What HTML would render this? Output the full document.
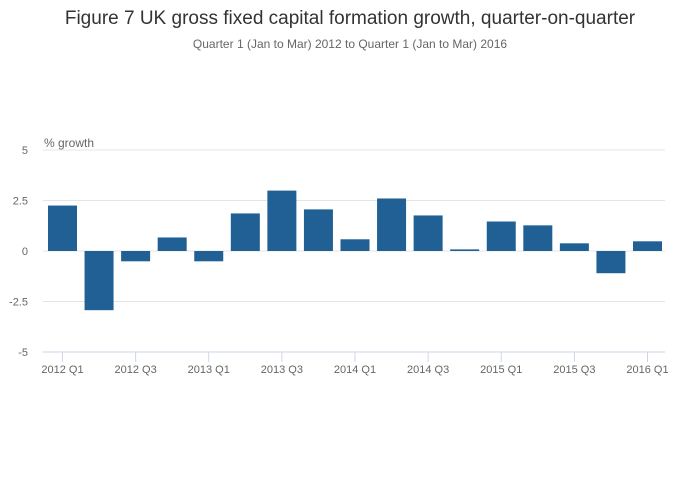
<!DOCTYPE html>
<html><head><meta charset="utf-8"><style>
body{margin:0;background:#fff;font-family:"Liberation Sans",sans-serif;}
svg{display:block}
</style></head><body>
<svg width="700" height="502" xmlns="http://www.w3.org/2000/svg">
<text x="350" y="24" text-anchor="middle" font-size="19" fill="#333">Figure 7 UK gross fixed capital formation growth, quarter-on-quarter</text>
<text x="350" y="48" text-anchor="middle" font-size="12" fill="#666">Quarter 1 (Jan to Mar) 2012 to Quarter 1 (Jan to Mar) 2016</text>
<text x="44" y="147" font-size="12" fill="#666">% growth</text>
<g id="grid"></g><g id="bars"></g><g id="xaxis"></g>
</svg>
<script>
const categories=["2012 Q1","2012 Q2","2012 Q3","2012 Q4","2013 Q1","2013 Q2","2013 Q3","2013 Q4","2014 Q1","2014 Q2","2014 Q3","2014 Q4","2015 Q1","2015 Q2","2015 Q3","2015 Q4","2016 Q1"];
const values=[2.25,-2.93,-0.51,0.67,-0.51,1.86,2.99,2.06,0.58,2.6,1.76,0.08,1.46,1.27,0.38,-1.1,0.48];
const yTicks=[5,2.5,0,-2.5,-5];
const yTickLabels=["5","2.5","0","-2.5","-5"];
const NS="http://www.w3.org/2000/svg";
const left=43,right=665,y0=150,y1=352,ymax=5,ymin=-5;
const y=v=>y0+(ymax-v)/(ymax-ymin)*(y1-y0);
const c0=62.5,step=(647.5-62.5)/(categories.length-1),bw=29;
const x=i=>c0+i*step;
function mk(t,a,p){const e=document.createElementNS(NS,t);for(const k in a)e.setAttribute(k,a[k]);p.appendChild(e);return e;}
const grid=document.getElementById('grid'),bars=document.getElementById('bars'),xa=document.getElementById('xaxis');
yTicks.forEach((v,i)=>{
 if(v!==ymin){const l=mk('line',{x1:left,x2:right,y1:y(v),y2:y(v),stroke:'#e4e4e4','stroke-width':1},grid);
 
 }
 const t=mk('text',{x:28,y:y(v)+4,'font-size':11,fill:'#666','text-anchor':'end'},grid);
 t.textContent=yTickLabels[i];
 
 
});
values.forEach((v,i)=>{
 const r=mk('rect',{x:x(i)-bw/2,y:Math.min(y(v),y(0)),width:bw,height:Math.abs(y(v)-y(0)),fill:'#206095'},bars);
 
 
});
const ax=mk('line',{x1:left,x2:right,y1:y1,y2:y1,stroke:'#ccd6eb','stroke-width':1},xa);


categories.forEach((c,i)=>{
 if(i%2)return;
 const tk=mk('line',{x1:x(i),x2:x(i),y1:y1,y2:y1+10,stroke:'#ccd6eb'},xa);
 
 
 const t=mk('text',{x:x(i),y:373,'font-size':11,fill:'#666','text-anchor':'middle'},xa);
 t.textContent=c;
 
 
});
</script>
</body></html>
